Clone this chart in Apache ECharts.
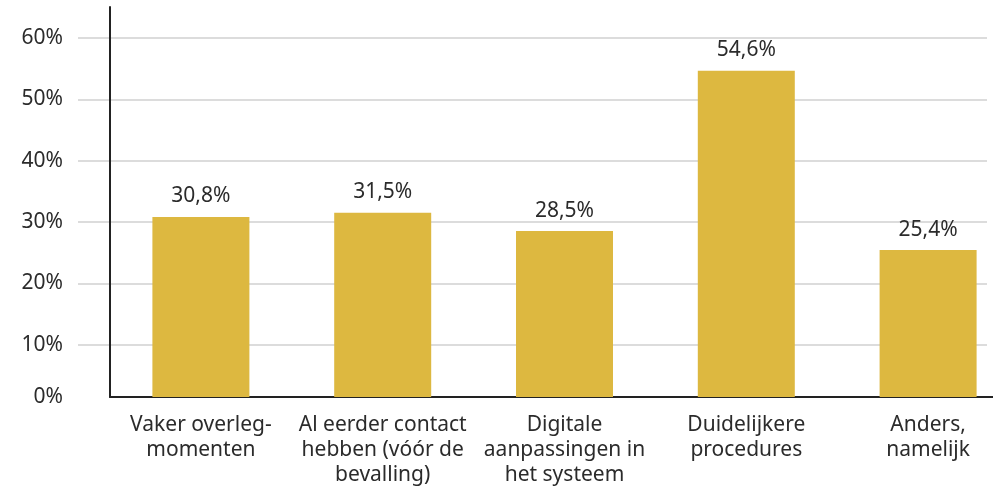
<!DOCTYPE html>
<html>
<head>
<meta charset="utf-8">
<script src="https://cdn.jsdelivr.net/npm/echarts@6/dist/echarts.min.js"></script>
<style>
  html, body { margin: 0; padding: 0; background: #fff; }
  #chart { width: 993px; height: 491px; }
</style>
</head>
<body>
<div id="chart"></div>
<script>
const categories = [
  'Vaker overleg-\nmomenten',
  'Al eerder contact\nhebben (vóór de\nbevalling)',
  'Digitale\naanpassingen in\nhet systeem',
  'Duidelijkere\nprocedures',
  'Anders,\nnamelijk'
];
const values = [30.8, 31.5, 28.5, 54.6, 25.4];
const yTicks = [0, 10, 20, 30, 40, 50, 60];

const barColor = '#DDB840';
const textColor = '#2b2b2b';
const fontFamily = '"Noto Sans", sans-serif';
const fontSize = 21;

const chart = echarts.init(document.getElementById('chart'), null, { renderer: 'canvas' });

const option = {
  backgroundColor: '#fff',
  animation: false,
  textStyle: { fontFamily: fontFamily },
  grid: [
    // gridlines + y labels
    { left: 78, right: 6, top: 38, bottom: 85, outerBoundsMode: 'none' },
    // bars (clipped at the axis line), a bit wider than the canvas
    { left: 110, width: 909, top: 7, bottom: 94, outerBoundsMode: 'none' }
  ],
  xAxis: [
    {
      gridIndex: 0,
      type: 'category',
      data: categories,
      axisLine: { show: true, lineStyle: { color: '#fff', width: 3 } },
      axisTick: { show: false },
      axisLabel: { show: false }
    },
    {
      gridIndex: 1,
      type: 'category',
      data: categories,
      axisLine: { show: true, lineStyle: { color: '#222', width: 2 } },
      axisTick: { show: false },
      axisLabel: {
        interval: 0,
        color: textColor,
        fontSize: fontSize,
        lineHeight: 25,
        margin: 16,
        fontFamily: fontFamily
      }
    }
  ],
  yAxis: [
    {
      gridIndex: 0,
      type: 'value',
      min: yTicks[0],
      max: yTicks[yTicks.length - 1],
      interval: 10,
      axisLine: { show: false },
      axisTick: { show: false },
      splitLine: { lineStyle: { color: '#dcdcdc', width: 2 } },
      axisLabel: {
        color: textColor,
        fontSize: fontSize,
        margin: 15,
        fontFamily: fontFamily,
        formatter: function (v) {
          // 0% sits on the axis line, a bit higher than the 0 gridline
          return v === 0 ? '{zero|0%}' : v + '%';
        },
        rich: {
          zero: { fontSize: fontSize, color: textColor, fontFamily: fontFamily, padding: [0, 0, 18, 0] }
        }
      }
    },
    {
      gridIndex: 1,
      type: 'value',
      min: 1.47,
      max: 65.0,
      axisLine: { show: true, lineStyle: { color: '#222', width: 2 } },
      axisTick: { show: false },
      axisLabel: { show: false },
      splitLine: { show: false }
    }
  ],
  series: [
    {
      type: 'bar',
      xAxisIndex: 1,
      yAxisIndex: 1,
      data: values,
      barWidth: 97,
      clip: true,
      itemStyle: { color: barColor },
      label: {
        show: true,
        position: 'top',
        distance: 10,
        color: textColor,
        fontSize: fontSize,
        fontFamily: fontFamily,
        formatter: function (p) {
          return p.value.toFixed(1).replace('.', ',') + '%';
        }
      }
    }
  ]
};

chart.setOption(option);
</script>
</body>
</html>
